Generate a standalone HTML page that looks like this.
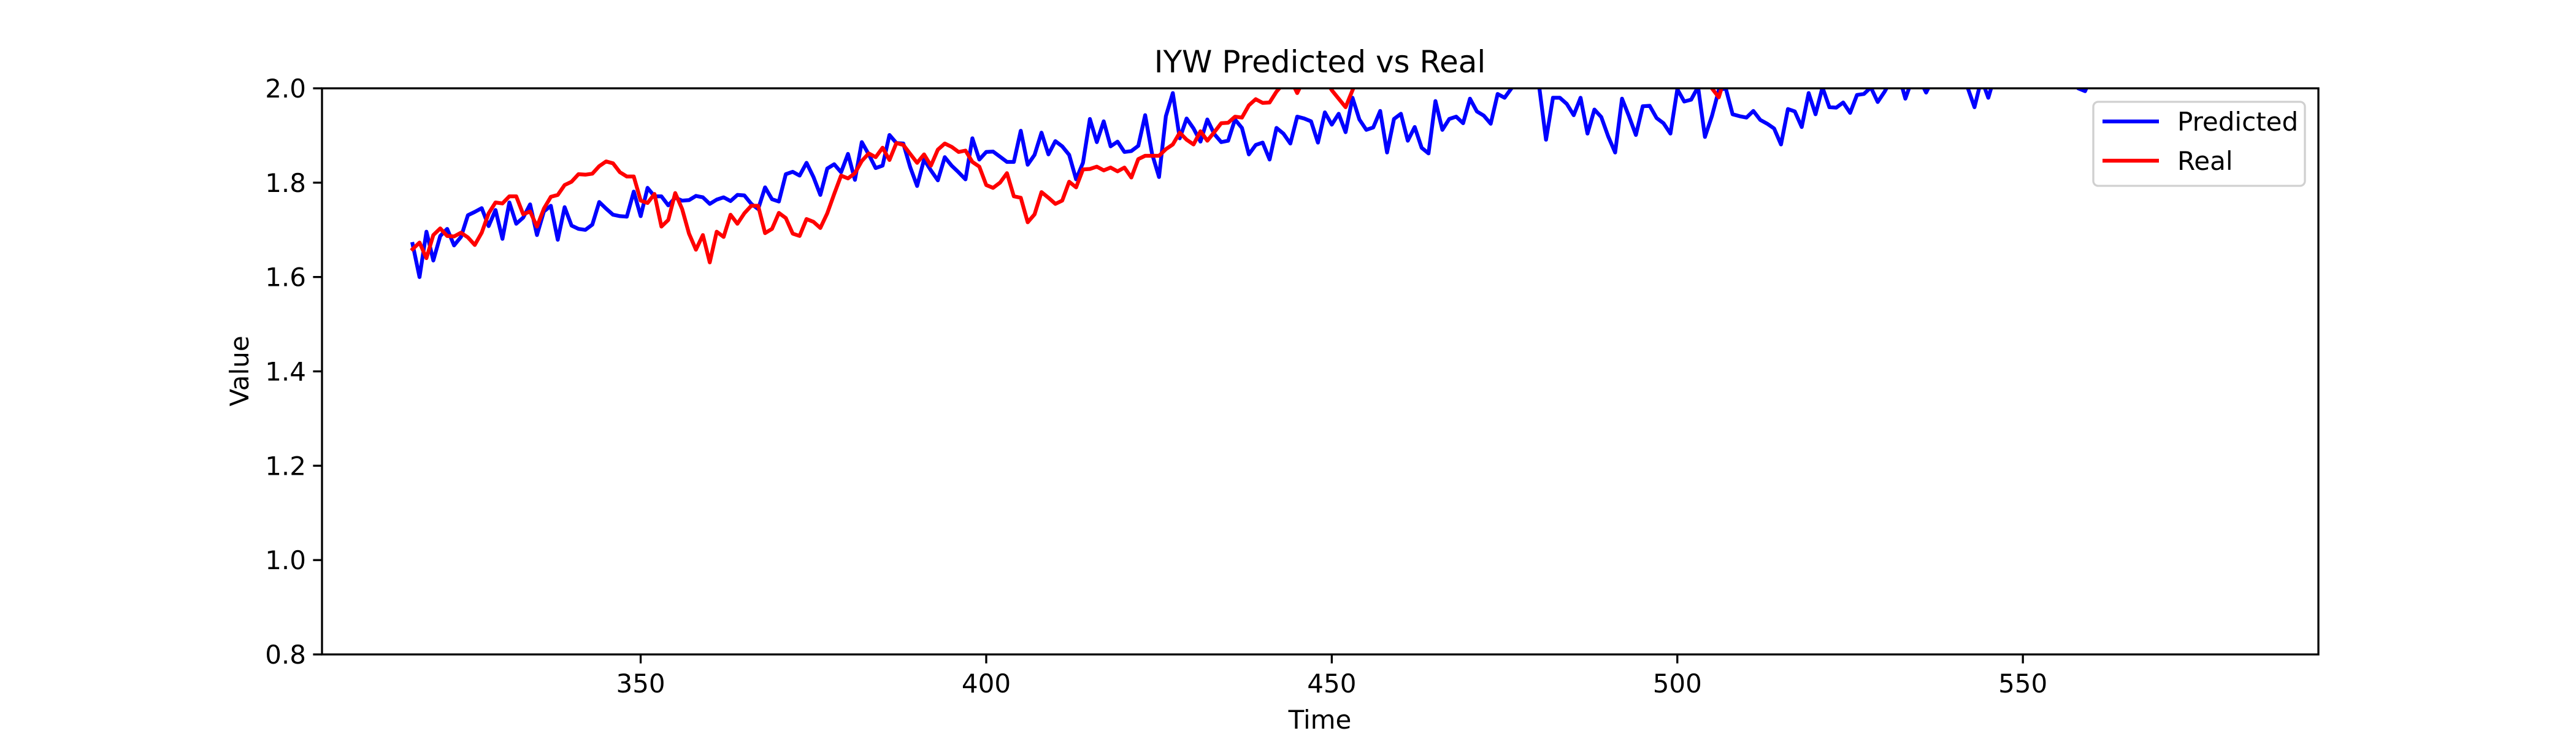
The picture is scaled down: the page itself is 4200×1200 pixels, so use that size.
<!DOCTYPE html>
<html><head><meta charset="utf-8"><style>
html,body{margin:0;padding:0;background:#fff;}
svg{display:block;font-family:"DejaVu Sans","Liberation Sans",sans-serif;}
</style></head><body>
<svg id="chart" width="4200" height="1200" viewBox="0 0 4200 1200" xmlns="http://www.w3.org/2000/svg">
<rect width="4200" height="1200" fill="#fff"/>
<defs><clipPath id="clip"><rect x="525" y="144" width="3255" height="923"/></clipPath></defs>
<text x="2152" y="118" font-size="50" text-anchor="middle">IYW Predicted vs Real</text>
<g id="series" clip-path="url(#clip)"></g>
<g id="axes"></g>
<rect x="525" y="144" width="3255" height="923" fill="none" stroke="#000" stroke-width="3.3"/>
<text x="2152" y="1188" font-size="42" text-anchor="middle">Time</text>
<text x="405" y="605" font-size="42" text-anchor="middle" transform="rotate(-90 405 605)">Value</text>
<g>
<rect x="3413" y="166" width="345" height="137" rx="8" fill="#fff" fill-opacity="0.8" stroke="#d0d0d0" stroke-width="3.3"/>
<line x1="3428" y1="198" x2="3520" y2="198" stroke="#0000ff" stroke-width="6.25"/>
<text x="3550" y="213" font-size="42">Predicted</text>
<line x1="3428" y1="262" x2="3520" y2="262" stroke="#ff0000" stroke-width="6.25"/>
<text x="3550" y="277" font-size="42">Real</text>
</g>
</svg>
<script>
const startTime = 317;
const xTicks = [350, 400, 450, 500, 550];
const yTicks = [0.8, 1.0, 1.2, 1.4, 1.6, 1.8, 2.0];
const predicted = [1.670,1.600,1.696,1.635,1.687,1.702,1.667,1.685,1.731,1.738,1.746,1.708,1.742,1.681,1.758,1.713,1.726,1.754,1.689,1.739,
1.751,1.679,1.748,1.709,1.702,1.700,1.711,1.759,1.745,1.732,1.729,1.728,1.781,1.729,1.789,1.771,1.771,1.752,1.768,1.762,
1.763,1.772,1.769,1.755,1.764,1.769,1.761,1.774,1.773,1.755,1.744,1.790,1.765,1.760,1.818,1.823,1.815,1.842,1.812,1.774,
1.830,1.839,1.822,1.861,1.806,1.886,1.860,1.831,1.836,1.901,1.884,1.883,1.833,1.793,1.849,1.826,1.805,1.854,1.836,1.822,
1.807,1.894,1.849,1.865,1.866,1.855,1.844,1.844,1.910,1.838,1.859,1.906,1.860,1.888,1.877,1.859,1.807,1.842,1.935,1.886,
1.930,1.877,1.887,1.865,1.867,1.878,1.943,1.861,1.812,1.941,1.990,1.894,1.936,1.915,1.887,1.934,1.903,1.886,1.889,1.934,
1.916,1.860,1.880,1.885,1.849,1.916,1.904,1.883,1.940,1.936,1.930,1.885,1.949,1.923,1.946,1.907,1.980,1.934,1.912,1.917,
1.952,1.864,1.935,1.946,1.889,1.918,1.874,1.862,1.973,1.912,1.935,1.940,1.926,1.978,1.951,1.942,1.925,1.988,1.980,2.000,
2.02,2.03,2.03,2.005,1.891,1.980,1.980,1.967,1.943,1.980,1.904,1.955,1.939,1.898,1.864,1.978,1.941,1.901,1.962,1.963,
1.937,1.926,1.904,1.998,1.972,1.976,2.003,1.897,1.941,1.996,2.000,1.945,1.941,1.938,1.952,1.933,1.925,1.915,1.881,1.956,
1.951,1.918,1.990,1.945,2.002,1.960,1.959,1.970,1.948,1.986,1.988,2.002,1.971,1.993,2.02,2.03,1.978,2.02,2.02,1.991,
2.02,2.03,2.02,2.03,2.02,2.002,1.960,2.02,1.980,2.03,2.03,2.03,2.03,2.03,2.03,2.03,2.03,2.03,2.03,2.03,
2.03,2.000,1.994,2.03,2.03,2.03,2.03,2.03,2.03,2.03,2.03,2.03,2.03,2.03,2.03,2.03,2.03,2.03,2.03,2.03,2.03,2.03,2.03];
const real = [1.659,1.673,1.640,1.689,1.703,1.687,1.686,1.694,1.684,1.668,1.694,1.735,1.758,1.756,1.771,1.771,1.733,1.739,1.707,1.745,
1.770,1.774,1.795,1.802,1.818,1.817,1.819,1.835,1.845,1.841,1.822,1.813,1.813,1.762,1.757,1.776,1.707,1.721,1.778,1.744,
1.692,1.658,1.689,1.631,1.696,1.685,1.732,1.713,1.735,1.751,1.751,1.693,1.702,1.736,1.725,1.692,1.687,1.723,1.717,1.704,
1.735,1.776,1.815,1.809,1.820,1.846,1.862,1.854,1.874,1.848,1.884,1.880,1.861,1.842,1.860,1.836,1.870,1.883,1.876,1.865,
1.868,1.844,1.834,1.795,1.789,1.800,1.820,1.771,1.768,1.716,1.733,1.780,1.768,1.755,1.762,1.802,1.790,1.828,1.829,1.834,
1.826,1.832,1.824,1.832,1.811,1.850,1.857,1.857,1.857,1.871,1.881,1.906,1.891,1.881,1.909,1.889,1.907,1.926,1.927,1.940,
1.938,1.964,1.977,1.969,1.970,1.993,2.01,2.02,1.990,2.02,2.02,2.02,2.02,1.996,1.978,1.960,1.996,2.03,2.03,2.03,
2.03,2.03,2.03,2.03,2.03,2.03,2.03,2.03,2.03,2.03,2.03,2.03,2.03,2.03,2.03,2.03,2.03,2.03,2.03,2.03,
2.03,2.03,2.03,2.03,2.03,2.03,2.03,2.03,2.03,2.03,2.03,2.03,2.03,2.03,2.03,2.03,2.03,2.03,2.03,2.03,
2.03,2.03,2.03,2.03,2.03,2.03,2.03,2.03,2.000,1.981,2.03,2.03,2.03,2.03,2.03,2.03,2.03,2.03,2.03,2.03];

const NS = "http://www.w3.org/2000/svg";
const L = 525, R = 3780, T = 144, B = 1067;
const xMin = 303.89, xMax = 592.76, yMin = 0.8, yMax = 2.0;
function xScale(t){ return L + (t - xMin) / (xMax - xMin) * (R - L); }
function yScale(v){ return B - (v - yMin) / (yMax - yMin) * (B - T); }

const series = document.getElementById('series');
function drawLine(vals, color, name){
  let d = '';
  vals.forEach((v, i) => { d += (i ? 'L' : 'M') + xScale(startTime + i).toFixed(1) + ' ' + yScale(v).toFixed(1); });
  const p = document.createElementNS(NS, 'path');
  p.setAttribute('d', d);
  p.setAttribute('fill', 'none');
  p.setAttribute('stroke', color);
  p.setAttribute('stroke-width', '6.25');
  p.setAttribute('stroke-linejoin', 'round');
  p.setAttribute('stroke-linecap', 'square');
  
  
  series.appendChild(p);
}
drawLine(predicted, '#0000ff', 'predicted-line');
drawLine(real, '#ff0000', 'real-line');

const axes = document.getElementById('axes');
xTicks.forEach(t => {
  const x = xScale(t);
  const ln = document.createElementNS(NS, 'line');
  ln.setAttribute('x1', x); ln.setAttribute('x2', x);
  ln.setAttribute('y1', B); ln.setAttribute('y2', B + 14.6);
  ln.setAttribute('stroke', '#000'); ln.setAttribute('stroke-width', '3.3');
  
  
  axes.appendChild(ln);
  const tx = document.createElementNS(NS, 'text');
  tx.setAttribute('x', x); tx.setAttribute('y', B + 62);
  tx.setAttribute('font-size', '42'); tx.setAttribute('text-anchor', 'middle');
  tx.textContent = String(t);
  
  
  axes.appendChild(tx);
});
yTicks.forEach(v => {
  const y = yScale(v);
  const ln = document.createElementNS(NS, 'line');
  ln.setAttribute('x1', L - 14.6); ln.setAttribute('x2', L);
  ln.setAttribute('y1', y); ln.setAttribute('y2', y);
  ln.setAttribute('stroke', '#000'); ln.setAttribute('stroke-width', '3.3');
  
  
  axes.appendChild(ln);
  const tx = document.createElementNS(NS, 'text');
  tx.setAttribute('x', L - 26); tx.setAttribute('y', y + 15);
  tx.setAttribute('font-size', '42'); tx.setAttribute('text-anchor', 'end');
  tx.textContent = v.toFixed(1);
  
  
  axes.appendChild(tx);
});
</script>
</body></html>
